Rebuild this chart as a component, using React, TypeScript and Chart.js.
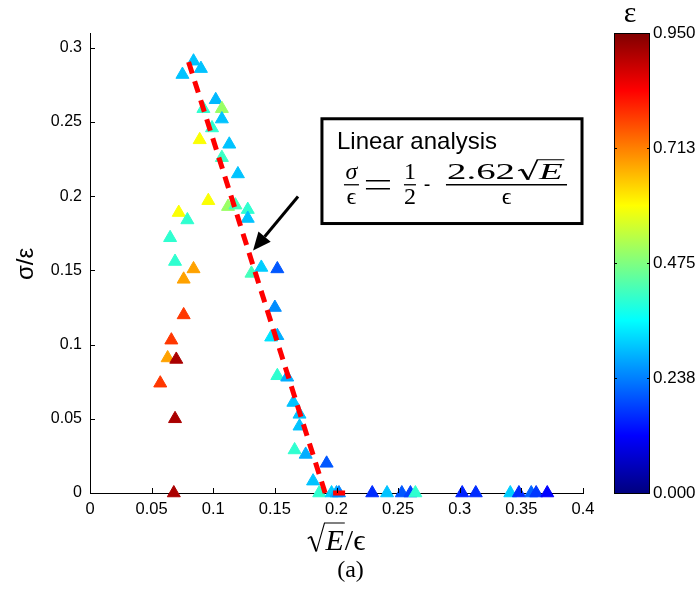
import React, { useEffect, useRef } from 'react';
import { Chart, registerables } from 'chart.js';

Chart.register(...registerables);

// sqrt(E)/eps values
const xVals = [
  0.084, 0.090, 0.075, 0.102, 0.092, 0.107, 0.107, 0.099, 0.089, 0.113,
  0.107, 0.120, 0.096, 0.112, 0.118, 0.128, 0.128, 0.072, 0.079, 0.065,
  0.069, 0.084, 0.076, 0.076, 0.066, 0.063, 0.070, 0.057, 0.069, 0.068,
  0.131, 0.139, 0.152, 0.150, 0.152, 0.147, 0.152, 0.160, 0.165, 0.170,
  0.170, 0.166, 0.175, 0.192, 0.181, 0.186, 0.196, 0.200, 0.202,
  0.229, 0.241, 0.253, 0.260, 0.264, 0.302, 0.313, 0.341, 0.348, 0.358, 0.362, 0.371,
];
// sigma/eps values
const yVals = [
  0.291, 0.286, 0.282, 0.265, 0.259, 0.259, 0.252, 0.246, 0.238, 0.235,
  0.226, 0.215, 0.197, 0.193, 0.194, 0.191, 0.185, 0.189, 0.184, 0.172,
  0.156, 0.151, 0.144, 0.120, 0.103, 0.091, 0.090, 0.074, 0.050, 0.000,
  0.148, 0.152, 0.151, 0.125, 0.106, 0.105, 0.079, 0.078, 0.061, 0.053,
  0.045, 0.029, 0.026, 0.020, 0.008, 0.000, 0.000, 0.000, 0.000,
  0, 0, 0, 0, 0, 0, 0, 0, 0, 0, 0, 0,
];
// epsilon (colour) values
const epsVals = [
  0.30, 0.30, 0.30, 0.29, 0.40, 0.50, 0.30, 0.40, 0.59, 0.30,
  0.41, 0.30, 0.59, 0.50, 0.42, 0.40, 0.30, 0.59, 0.40, 0.40,
  0.40, 0.68, 0.68, 0.78, 0.78, 0.68, 0.91, 0.78, 0.91, 0.91,
  0.42, 0.31, 0.20, 0.25, 0.28, 0.33, 0.40, 0.28, 0.30, 0.30,
  0.30, 0.40, 0.28, 0.20, 0.30, 0.40, 0.31, 0.28, 0.24,
  0.16, 0.30, 0.20, 0.18, 0.40, 0.15, 0.16, 0.31, 0.16, 0.21, 0.17, 0.12,
];

// linear analysis line sigma/eps = 1/2 - 2.62 sqrt(E)/eps (clipped at 0)
const fitX = [0.08, 0.1908, 0.21];
const fitY = [0.2904, 0, 0];

const xTicks = [0, 0.05, 0.1, 0.15, 0.2, 0.25, 0.3, 0.35, 0.4];
const xTickLabels = ['0', '0.05', '0.1', '0.15', '0.2', '0.25', '0.3', '0.35', '0.4'];
const yTicks = [0, 0.05, 0.1, 0.15, 0.2, 0.25, 0.3];
const yTickLabels = ['0', '0.05', '0.1', '0.15', '0.2', '0.25', '0.3'];
const cbMin = 0;
const cbMax = 0.95;
const cbTicks = [0, 0.238, 0.475, 0.713, 0.95];
const cbTickLabels = ['0.000', '0.238', '0.475', '0.713', '0.950'];

// annotation anchors (data coordinates)
const boxCorner1 = [0.1882, 0.2522];
const boxCorner2 = [0.3992, 0.1816];
const arrowTail = [0.1688, 0.1998];
const arrowTip = [0.1323, 0.1634];

const SANS = "'Liberation Sans', Arial, Helvetica, sans-serif";
const SERIF = "'Liberation Serif', 'DejaVu Serif', 'Times New Roman', serif";

function jet(v: number): string {
  const t = Math.min(1, Math.max(0, (v - cbMin) / (cbMax - cbMin)));
  const c = (a: number) => Math.round(255 * Math.min(1, Math.max(0, 1.5 - Math.abs(4 * t - a))));
  return `rgb(${c(3)},${c(2)},${c(1)})`;
}

function drawRadical(ctx: CanvasRenderingContext2D, x: number, base: number, h: number, w: number) {
  ctx.save();
  ctx.lineWidth = 1.3;
  ctx.lineJoin = 'miter';
  ctx.beginPath();
  ctx.moveTo(x, base - h * 0.42);
  ctx.lineTo(x + h * 0.12, base - h * 0.5);
  ctx.stroke();
  ctx.lineWidth = 2;
  ctx.beginPath();
  ctx.moveTo(x + h * 0.12, base - h * 0.5);
  ctx.lineTo(x + h * 0.32, base + h * 0.05);
  ctx.stroke();
  ctx.lineWidth = 1.1;
  ctx.beginPath();
  ctx.moveTo(x + h * 0.32, base + h * 0.05);
  ctx.lineTo(x + h * 0.62, base - h);
  ctx.lineTo(x + h * 0.62 + w, base - h);
  ctx.stroke();
  ctx.restore();
  return x + h * 0.62;
}

const overlayPlugin = {
  id: 'overlay',
  afterDraw(chart: any) {
    const ctx: CanvasRenderingContext2D = chart.ctx;
    const xs = chart.scales.x;
    const ys = chart.scales.y;
    const ca = chart.chartArea;
    ctx.save();
    ctx.strokeStyle = '#000';
    ctx.fillStyle = '#000';
    ctx.lineWidth = 1;

    // inward ticks
    yTicks.forEach((v) => {
      const p = Math.round(ys.getPixelForValue(v)) + 0.5;
      ctx.beginPath();
      ctx.moveTo(ca.left, p);
      ctx.lineTo(ca.left + 5, p);
      ctx.stroke();
    });
    xTicks.forEach((v) => {
      const p = Math.round(xs.getPixelForValue(v)) + 0.5;
      ctx.beginPath();
      ctx.moveTo(p, ca.bottom);
      ctx.lineTo(p, ca.bottom - 5);
      ctx.stroke();
    });

    // y axis title
    ctx.save();
    ctx.translate(26, (ca.top + ca.bottom) / 2 + 1);
    ctx.rotate(-Math.PI / 2);
    ctx.font = `24px ${SANS}`;
    ctx.textAlign = 'center';
    ctx.textBaseline = 'middle';
    ctx.fillText('σ/ε', 0, 0);
    ctx.restore();

    // x axis title: sqrt(E)/eps
    {
      const cx = (ca.left + ca.right) / 2;
      const base = 550;
      const fs = 30;
      ctx.font = `italic ${fs}px ${SERIF}`;
      const wE = ctx.measureText('E').width;
      ctx.font = `${fs}px ${SERIF}`;
      const wSl = ctx.measureText('/').width;
      const wEp = ctx.measureText('ϵ').width;
      const radH = 27;
      const radW = radH * 0.62;
      const total = radW + wE + 2 + wSl + wEp;
      let x = cx - total / 2;
      const ex = drawRadical(ctx, x, base, radH, wE + 2);
      ctx.textAlign = 'left';
      ctx.textBaseline = 'alphabetic';
      ctx.font = `italic ${fs}px ${SERIF}`;
      ctx.fillText('E', ex + 1, base);
      x = ex + wE + 2;
      ctx.font = `${fs}px ${SERIF}`;
      ctx.fillText('/', x, base);
      ctx.fillText('ϵ', x + wSl, base);
      ctx.font = `24px ${SERIF}`;
      ctx.textAlign = 'center';
      ctx.fillText('(a)', cx + 14, 577);
    }

    // annotation box
    {
      const bl = xs.getPixelForValue(boxCorner1[0]);
      const bt = ys.getPixelForValue(boxCorner1[1]);
      const br = xs.getPixelForValue(boxCorner2[0]);
      const bb = ys.getPixelForValue(boxCorner2[1]);
      ctx.fillStyle = '#fff';
      ctx.fillRect(bl, bt, br - bl, bb - bt);
      ctx.lineWidth = 3;
      ctx.strokeStyle = '#000';
      ctx.strokeRect(bl, bt, br - bl, bb - bt);
      ctx.fillStyle = '#000';
      ctx.textAlign = 'left';
      ctx.textBaseline = 'alphabetic';
      ctx.font = `24px ${SANS}`;
      ctx.fillText('Linear analysis', bl + 15, bt + 30);

      const numB = bt + 60;
      const barY = bt + 66;
      const denB = bt + 85;
      const fr = (x0: number, x1: number) => {
        ctx.save();
        ctx.lineWidth = 1.3;
        ctx.beginPath();
        ctx.moveTo(x0, barY);
        ctx.lineTo(x1, barY);
        ctx.stroke();
        ctx.restore();
      };
      ctx.textAlign = 'center';
      // sigma / eps
      ctx.font = `italic 24px ${SERIF}`;
      ctx.fillText('σ', bl + 29.5, numB);
      ctx.font = `24px ${SERIF}`;
      ctx.fillText('ϵ', bl + 29.5, denB);
      fr(bl + 22, bl + 37);
      // equals
      ctx.save();
      ctx.lineWidth = 1.3;
      ctx.beginPath();
      ctx.moveTo(bl + 44, barY - 4);
      ctx.lineTo(bl + 68, barY - 4);
      ctx.moveTo(bl + 44, barY + 4);
      ctx.lineTo(bl + 68, barY + 4);
      ctx.stroke();
      ctx.restore();
      // 1/2
      ctx.font = `24px ${SERIF}`;
      ctx.fillText('1', bl + 88, numB);
      ctx.fillText('2', bl + 88, denB);
      fr(bl + 82, bl + 94);
      // minus (hyphen)
      ctx.font = `20px ${SANS}`;
      ctx.fillText('-', bl + 105, barY + 6);
      // 2.62 sqrt(E) / eps, stretched over the fraction bar
      const fx0 = bl + 124;
      const fx1 = br - 15;
      ctx.font = `24px ${SERIF}`;
      const wNum = ctx.measureText('2.62').width;
      ctx.font = `italic 24px ${SERIF}`;
      const wE2 = ctx.measureText('E').width;
      const rh = 19;
      const rw = rh * 0.62;
      const tot = wNum + 2 + rw + wE2 + 3;
      const sx = (fx1 - fx0 - 2) / tot;
      ctx.save();
      ctx.translate(fx0 + 1, 0);
      ctx.scale(sx, 1);
      ctx.textAlign = 'left';
      ctx.font = `24px ${SERIF}`;
      ctx.fillText('2.62', 0, numB);
      const ex2 = drawRadical(ctx, wNum + 2, numB, rh, wE2 + 2);
      ctx.font = `italic 24px ${SERIF}`;
      ctx.fillText('E', ex2 + 1, numB);
      ctx.restore();
      ctx.textAlign = 'center';
      ctx.font = `24px ${SERIF}`;
      ctx.fillText('ϵ', (fx0 + fx1) / 2, denB);
      fr(fx0, fx1);
    }

    // arrow
    {
      const tx = xs.getPixelForValue(arrowTail[0]);
      const ty = ys.getPixelForValue(arrowTail[1]);
      const hx = xs.getPixelForValue(arrowTip[0]);
      const hy = ys.getPixelForValue(arrowTip[1]);
      const ang = Math.atan2(hy - ty, hx - tx);
      const L = 18;
      const W = 8;
      const bx = hx - L * Math.cos(ang);
      const by = hy - L * Math.sin(ang);
      ctx.strokeStyle = '#000';
      ctx.lineWidth = 3;
      ctx.beginPath();
      ctx.moveTo(tx, ty);
      ctx.lineTo(bx, by);
      ctx.stroke();
      ctx.beginPath();
      ctx.moveTo(hx, hy);
      ctx.lineTo(bx + W * Math.sin(ang), by - W * Math.cos(ang));
      ctx.lineTo(bx - W * Math.sin(ang), by + W * Math.cos(ang));
      ctx.closePath();
      ctx.fillStyle = '#000';
      ctx.fill();
    }

    // colour bar
    {
      const cl = 614;
      const cr = 650;
      const ct = ca.top;
      const cb = ca.bottom;
      const g = ctx.createLinearGradient(0, cb, 0, ct);
      const n = 64;
      for (let i = 0; i <= n; i++) {
        const v = cbMin + ((cbMax - cbMin) * i) / n;
        g.addColorStop(i / n, jet(v));
      }
      ctx.fillStyle = g;
      ctx.fillRect(cl, ct, cr - cl, cb - ct);
      ctx.lineWidth = 1;
      ctx.strokeStyle = '#000';
      ctx.strokeRect(cl + 0.5, ct + 0.5, cr - cl - 1, cb - ct);
      ctx.fillStyle = '#000';
      ctx.font = `17px ${SANS}`;
      ctx.textAlign = 'left';
      ctx.textBaseline = 'middle';
      cbTicks.forEach((v, i) => {
        const p = Math.round(cb - ((v - cbMin) / (cbMax - cbMin)) * (cb - ct)) + 0.5;
        ctx.beginPath();
        ctx.moveTo(cl, p);
        ctx.lineTo(cl + 3, p);
        ctx.moveTo(cr, p);
        ctx.lineTo(cr - 3, p);
        ctx.stroke();
        ctx.fillText(cbTickLabels[i], cr + 3, p);
      });
      ctx.font = `30px ${SERIF}`;
      ctx.textAlign = 'center';
      ctx.textBaseline = 'alphabetic';
      ctx.fillText('ε', 630, 22);
    }

    ctx.restore();
  },
};

export default function App() {
  const ref = useRef<HTMLCanvasElement | null>(null);
  useEffect(() => {
    document.body.style.margin = '0';
    const canvas = ref.current!;
    const points = xVals.map((x, i) => ({ x, y: yVals[i] }));
    const colors = epsVals.map((e) => jet(e));
    const fitPts = fitX.map((x, i) => ({ x, y: fitY[i] }));
    const chart = new Chart(canvas, {
      type: 'scatter',
      data: {
        datasets: [
          {
            type: 'line',
            data: fitPts,
            borderColor: '#ff0000',
            borderWidth: 5,
            borderDash: [12, 8],
            pointRadius: 0,
            fill: false,
            tension: 0,
            clip: false,
            order: 0,
          } as any,
          {
            data: points,
            pointStyle: 'triangle',
            pointRadius: 7.5,
            pointBackgroundColor: colors,
            pointBorderColor: colors,
            pointBorderWidth: 1,
            clip: false,
            order: 1,
          } as any,
        ],
      },
      options: {
        responsive: false,
        animation: false,
        devicePixelRatio: 1,
        layout: { padding: { left: 0, top: 33, right: 116, bottom: 0 } },
        plugins: { legend: { display: false }, tooltip: { enabled: false } },
        scales: {
          x: {
            type: 'linear',
            min: 0,
            max: 0.4,
            afterBuildTicks: (s: any) => {
              s.ticks = xTicks.map((v) => ({ value: v }));
            },
            afterFit: (s: any) => {
              s.height = 96;
            },
            grid: { display: true, drawOnChartArea: false, drawTicks: false },
            border: { display: true, color: '#000', width: 1 },
            ticks: {
              padding: 7,
              color: '#000',
              autoSkip: false,
              maxRotation: 0,
              font: { family: SANS, size: 16.5 },
              callback: (_v: any, i: number) => xTickLabels[i],
            },
          },
          y: {
            type: 'linear',
            min: 0,
            max: 0.31,
            afterBuildTicks: (s: any) => {
              s.ticks = yTicks.map((v) => ({ value: v }));
            },
            afterFit: (s: any) => {
              s.width = 90;
            },
            grid: { display: true, drawOnChartArea: false, drawTicks: false },
            border: { display: true, color: '#000', width: 1 },
            ticks: {
              padding: 8,
              color: '#000',
              autoSkip: false,
              font: { family: SANS, size: 16 },
              callback: (_v: any, i: number) => yTickLabels[i],
            },
          },
        },
      } as any,
      plugins: [overlayPlugin],
    });
    return () => chart.destroy();
  }, []);
  return (
    <div style={{ width: 699, height: 589, background: '#fff' }}>
      <canvas ref={ref} width={699} height={589} style={{ display: 'block' }} />
    </div>
  );
}
